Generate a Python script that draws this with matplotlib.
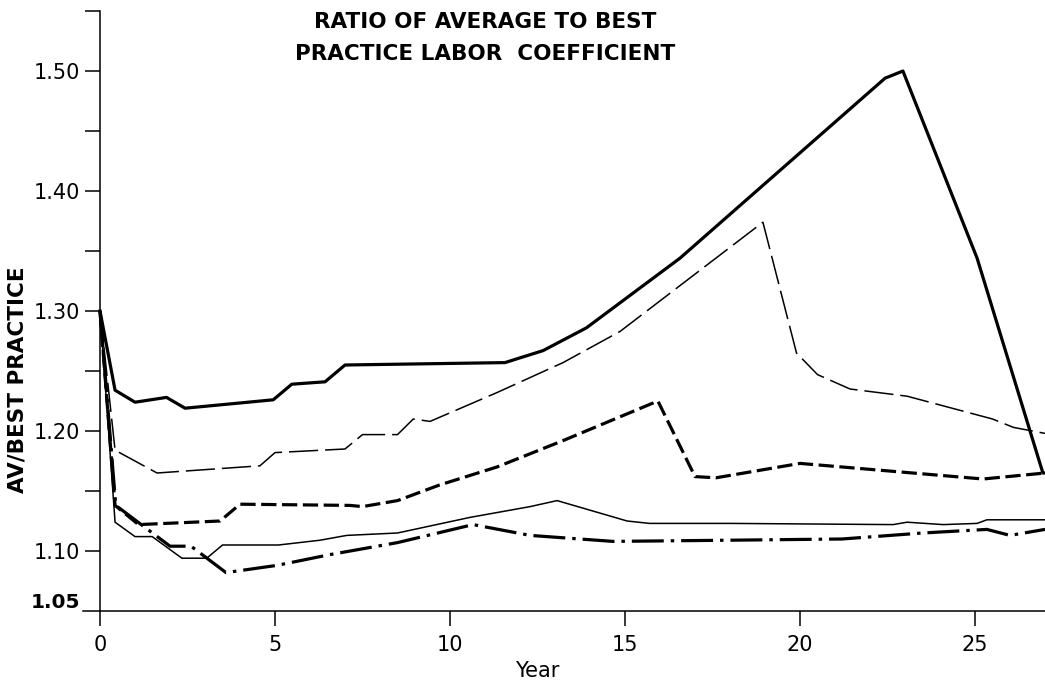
import matplotlib.pyplot as plt

plt.rcParams['font.family'] = 'DejaVu Sans'
plt.rcParams['lines.scale_dashes'] = False

# thick solid curve
years_a = [0, 0.43, 1.0, 1.9, 2.43, 4.95, 5.48, 6.43, 7.0, 11.57, 12.66, 13.9,
           16.57, 22.43, 22.94, 25.06, 26.94, 27.0]
ratio_a = [1.300, 1.234, 1.224, 1.228, 1.219, 1.226, 1.239, 1.241, 1.255, 1.257,
           1.267, 1.286, 1.344, 1.494, 1.500, 1.344, 1.165, 1.165]

# thin long-dash curve
years_b = [0, 0.43, 1.63, 4.57, 5.0, 7.0, 7.5, 8.5, 8.95, 9.43, 11.34, 13.23,
           14.86, 18.94, 19.9, 20.5, 21.43, 23.06, 25.5, 26.1, 27.0]
ratio_b = [1.300, 1.184, 1.165, 1.171, 1.182, 1.185, 1.197, 1.197, 1.210, 1.208,
           1.232, 1.257, 1.283, 1.374, 1.265, 1.247, 1.235, 1.229, 1.210, 1.203, 1.198]

# thick short-dash curve
years_c = [0, 0.43, 1.1, 3.43, 4.0, 7.14, 7.5, 8.5, 9.7, 11.34, 13.23, 15.94,
           17.0, 17.6, 20.0, 25.23, 27.0]
ratio_c = [1.300, 1.138, 1.122, 1.125, 1.139, 1.138, 1.137, 1.142, 1.155, 1.170,
           1.192, 1.225, 1.162, 1.161, 1.173, 1.160, 1.165]

# thin solid curve
years_d = [0, 0.43, 1.0, 1.49, 2.34, 3.05, 3.5, 5.1, 6.29, 7.05, 8.5, 10.57,
           12.29, 13.06, 15.06, 15.7, 18.0, 22.66, 23.06, 24.09, 25.06, 25.34, 27.0]
ratio_d = [1.300, 1.124, 1.112, 1.112, 1.094, 1.094, 1.105, 1.105, 1.109, 1.113,
           1.115, 1.128, 1.137, 1.142, 1.125, 1.123, 1.123, 1.122, 1.124, 1.122,
           1.123, 1.126, 1.126]

# thick dash-dot curve
years_e = [0, 0.45, 2.0, 2.6, 3.6, 5.05, 6.57, 8.5, 10.66, 12.29, 14.66, 18.0,
           21.2, 23.5, 25.34, 26.0, 27.0]
ratio_e = [1.300, 1.138, 1.104, 1.104, 1.082, 1.088, 1.097, 1.107, 1.122, 1.113,
           1.108, 1.109, 1.110, 1.115, 1.118, 1.113, 1.118]

x_ticks = [0, 5, 10, 15, 20, 25]
y_major = [1.10, 1.20, 1.30, 1.40, 1.50]
y_labels = ['1.10', '1.20', '1.30', '1.40', '1.50']
y_minor = [1.15, 1.25, 1.35, 1.45, 1.55]

fig = plt.figure(figsize=(10.45, 6.83), dpi=100)
ax = fig.add_axes([83 / 1045, 72 / 683, 962 / 1045, 600 / 683])

ax.plot(years_a, ratio_a, color='black', lw=2.3)
ax.plot(years_b, ratio_b, color='black', lw=1.1, dashes=(21, 5))
ax.plot(years_c, ratio_c, color='black', lw=2.3, dashes=(11, 4))
ax.plot(years_d, ratio_d, color='black', lw=1.1)
ax.plot(years_e, ratio_e, color='black', lw=2.3, dashes=(23, 5, 2.5, 5))

ax.set_xlim(-0.486, 27)
ax.set_ylim(1.05, 1.55)

ax.spines['top'].set_visible(False)
ax.spines['right'].set_visible(False)
ax.spines['left'].set_position(('data', 0))
for side in ['left', 'bottom']:
    ax.spines[side].set_linewidth(1.1)

ax.set_xticks(x_ticks)
ax.set_yticks(y_major)
ax.set_yticklabels(y_labels)
ax.set_yticks(y_minor, minor=True)
ax.tick_params(axis='both', which='both', direction='out', length=10.5, width=1.1,
               labelsize=15)
ax.tick_params(axis='y', which='both', pad=3.6)
ax.tick_params(axis='x', pad=7)

ax.annotate('1.05', xy=(0, 1.05), xytext=(-14.4, 2.2), textcoords='offset points',
            ha='right', va='baseline', fontsize=14.5, fontweight='bold')

fig.text(485 / 1045, 1 - 28 / 683, 'RATIO OF AVERAGE TO BEST',
         ha='center', va='baseline', fontsize=15.5, fontweight='bold')
fig.text(485 / 1045, 1 - 60 / 683, 'PRACTICE LABOR  COEFFICIENT',
         ha='center', va='baseline', fontsize=15.5, fontweight='bold')
fig.text(18 / 1045, 1 - 380 / 683, 'AV/BEST PRACTICE', rotation=90,
         ha='center', va='center', fontsize=15.5, fontweight='bold')
fig.text(537 / 1045, 1 - 677 / 683, 'Year', ha='center', va='baseline', fontsize=15)

fig.savefig('out.png', dpi=100)
